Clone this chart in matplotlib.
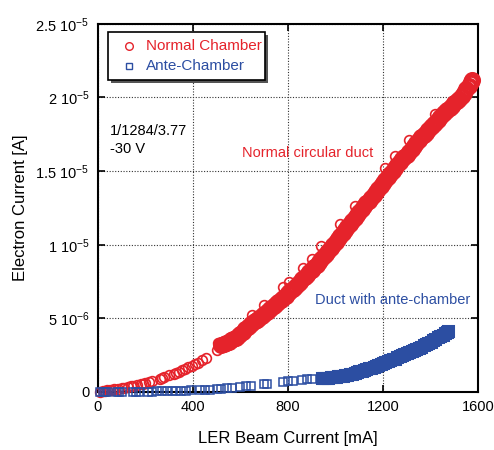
import matplotlib
matplotlib.use("Agg")
import matplotlib.pyplot as plt

plt.rcParams['font.family'] = ['Liberation Sans', 'DejaVu Sans']
plt.rcParams['mathtext.default'] = 'regular'

# ---------------- data (mA, 1e-6 A) ----------------
# Normal chamber, sparse low-current part
red_low_x = [10, 20, 30, 40, 50, 60, 70, 85, 100, 110, 125, 140, 150, 165, 180,
             190, 200, 215, 230, 260, 270, 280, 300, 320, 330, 340, 355, 365, 380,
             395, 410, 420, 440, 455, 500, 505]
red_low_y = [0.03, 0.06, 0.08, 0.10, 0.12, 0.15, 0.17, 0.20, 0.25, 0.28, 0.33,
             0.38, 0.42, 0.48, 0.53, 0.57, 0.62, 0.68, 0.75, 0.90, 0.95, 1.00,
             1.12, 1.25, 1.30, 1.38, 1.48, 1.55, 1.67, 1.78, 1.90, 1.98, 2.15,
             2.32, 2.85, 3.3]
# Normal chamber, dense part
red_x = [520, 530, 540, 550, 560, 570, 580, 590, 600, 610, 620, 630, 640, 650,
         660, 670, 680, 690, 700, 710, 720, 730, 740, 750, 760, 770, 780, 790,
         800, 810, 820, 830, 840, 850, 860, 870, 880, 890, 900, 910, 920, 930,
         940, 950, 960, 970, 980, 990, 1000, 1010, 1020, 1030, 1040, 1050, 1060,
         1070, 1080, 1090, 1100, 1110, 1120, 1130, 1140, 1150, 1160, 1170, 1180,
         1190, 1200, 1210, 1220, 1230, 1240, 1250, 1260, 1270, 1280, 1290, 1300,
         1310, 1320, 1330, 1340, 1350, 1360, 1370, 1380, 1390, 1400, 1410, 1420,
         1430, 1440, 1450, 1460, 1470, 1480, 1490, 1500, 1510, 1520, 1530, 1540,
         1550, 1560, 1570, 1575]
red_y = [3.2, 3.28, 3.35, 3.42, 3.5, 3.57, 3.65, 3.8, 3.95, 4.1, 4.25, 4.4, 4.55,
         4.68, 4.8, 4.92, 5.05, 5.18, 5.3, 5.42, 5.55, 5.7, 5.85, 5.97, 6.1,
         6.25, 6.4, 6.55, 6.7, 6.85, 7.0, 7.15, 7.3, 7.47, 7.65, 7.8, 7.95, 8.12,
         8.3, 8.47, 8.65, 8.82, 9.0, 9.2, 9.4, 9.6, 9.8, 10.0, 10.2, 10.4, 10.6,
         10.8, 11.0, 11.2, 11.4, 11.6, 11.8, 12.0, 12.2, 12.4, 12.6, 12.8, 13.0,
         13.2, 13.4, 13.6, 13.8, 14.0, 14.2, 14.4, 14.6, 14.8, 15.0, 15.2, 15.4,
         15.6, 15.8, 15.95, 16.1, 16.3, 16.5, 16.7, 16.9, 17.1, 17.3, 17.45, 17.6,
         17.8, 18.0, 18.15, 18.3, 18.5, 18.7, 18.85, 19.0, 19.15, 19.3, 19.45,
         19.6, 19.75, 19.9, 20.1, 20.3, 20.55, 20.8, 21.05, 21.2]
# a few visible outliers above the band
red_out_x = [650, 700, 780, 805, 865, 900, 940, 1020, 1080, 1210, 1250, 1310, 1420]
red_out_y = [5.2, 5.9, 7.1, 7.5, 8.4, 9.0, 9.9, 11.4, 12.6, 15.2, 16.0, 17.1, 18.9]

# Ante-chamber
blue_x = [10, 20, 30, 40, 80, 90, 100, 150, 160, 175, 210, 230, 250, 270, 290,
          310, 330, 350, 370, 390, 430, 450, 470, 500, 520, 545, 565, 600, 625,
          645, 700, 710, 780, 800, 820, 860, 880, 900,
          943, 950, 960, 970, 980, 990, 1000, 1010, 1020, 1030, 1040, 1050, 1060,
          1070, 1080, 1090, 1100, 1110, 1120, 1130, 1140, 1150, 1160, 1170, 1180,
          1190, 1200, 1210, 1220, 1230, 1240, 1250, 1260, 1270, 1280, 1290, 1300,
          1310, 1320, 1330, 1340, 1350, 1360, 1370, 1380, 1390, 1400, 1410, 1420,
          1430, 1440, 1450, 1460, 1470, 1474]
blue_y = [0.0, 0.0, 0.0, 0.0, 0.0, 0.0, 0.0, 0.01, 0.01, 0.02, 0.03, 0.03, 0.04,
          0.05, 0.05, 0.06, 0.07, 0.08, 0.09, 0.10, 0.12, 0.14, 0.16, 0.20, 0.23,
          0.26, 0.28, 0.35, 0.40, 0.43, 0.53, 0.56, 0.70, 0.73, 0.76, 0.82, 0.85,
          0.88,
          0.95, 0.96, 0.97, 0.98, 1.0, 1.02, 1.04, 1.06, 1.08, 1.1, 1.13, 1.16,
          1.2, 1.25, 1.3, 1.35, 1.4, 1.45, 1.5, 1.55, 1.6, 1.65, 1.71, 1.77, 1.83,
          1.89, 1.95, 2.01, 2.08, 2.14, 2.21, 2.27, 2.34, 2.41, 2.48, 2.55, 2.62,
          2.69, 2.76, 2.84, 2.92, 3.0, 3.08, 3.16, 3.25, 3.33, 3.42, 3.51, 3.6,
          3.7, 3.8, 3.9, 4.0, 4.1, 4.15]

x_ticks = [0, 400, 800, 1200, 1600]
y_ticks = [0, 5e-6, 1e-5, 1.5e-5, 2e-5, 2.5e-5]
y_tick_labels = ['0', r'5 10$^{-6}$', r'1 10$^{-5}$', r'1.5 10$^{-5}$',
                 r'2 10$^{-5}$', r'2.5 10$^{-5}$']

RED = '#e5232b'
BLUE = '#2c4ea2'

fig = plt.figure(figsize=(4.94, 4.5), dpi=100)
ax = fig.add_axes([0.198, 0.129, 0.770, 0.818])

def scale(v):
    return [a * 1e-6 for a in v]

common_r = dict(linestyle='none', marker='o', markerfacecolor='none',
                markeredgecolor=RED, clip_on=False, zorder=3)
ax.plot(red_low_x, scale(red_low_y), markersize=7, markeredgewidth=1.2, **common_r)
ax.plot(red_out_x, scale(red_out_y), markersize=7, markeredgewidth=1.2, **common_r)
ax.plot(red_x, scale(red_y), markersize=9.5, markeredgewidth=2.8, **common_r)

ax.plot(blue_x[:38], scale(blue_y[:38]), linestyle='none', marker='s',
        markersize=6.3, markerfacecolor='none', markeredgecolor=BLUE,
        markeredgewidth=1.1, clip_on=False, zorder=3)
ax.plot(blue_x[38:], scale(blue_y[38:]), linestyle='none', marker='s',
        markersize=7, markerfacecolor='none', markeredgecolor=BLUE,
        markeredgewidth=2.2, clip_on=False, zorder=3)

ax.set_xlim(0, 1600)
ax.set_ylim(0, 2.5e-5)
ax.set_xticks(x_ticks)
ax.set_xticklabels([str(t) for t in x_ticks])
ax.set_yticks(y_ticks)
ax.set_yticklabels(y_tick_labels)
ax.tick_params(direction='in', length=5, width=1.2, top=True, right=True,
               labelsize=10.5, pad=6, colors='black')
for s in ax.spines.values():
    s.set_linewidth(1.5)
ax.grid(True, linestyle=(0, (1, 1.5)), color='#333333', linewidth=0.8)
ax.set_axisbelow(True)

ax.set_xlabel('LER Beam Current [mA]', fontsize=12, labelpad=12)
ax.set_ylabel('Electron Current [A]', fontsize=12, labelpad=5)

# legend box with shadow
def px2ax(px, py):
    return ((px - 98) / 380, (392 - py) / 368)
lx0, ly0, lx1, ly1 = 108, 32, 265, 80
a0 = px2ax(lx0, ly1)
a1 = px2ax(lx1, ly0)
shadow = plt.Rectangle((a0[0] + 0.008, a0[1] - 0.008), a1[0] - a0[0], a1[1] - a0[1],
                       transform=ax.transAxes, facecolor='#555555', edgecolor='none',
                       zorder=4)
box = plt.Rectangle(a0, a1[0] - a0[0], a1[1] - a0[1], transform=ax.transAxes,
                    facecolor='white', edgecolor='black', linewidth=1.2, zorder=5)
ax.add_patch(shadow)
ax.add_patch(box)
m1 = px2ax(129, 46)
m2 = px2ax(129, 66)
ax.plot([m1[0]], [m1[1]], marker='o', markersize=5.5, markerfacecolor='none',
        markeredgecolor=RED, markeredgewidth=1.0, transform=ax.transAxes, zorder=6)
ax.plot([m2[0]], [m2[1]], marker='s', markersize=5, markerfacecolor='none',
        markeredgecolor=BLUE, markeredgewidth=1.0, transform=ax.transAxes, zorder=6)
t1 = px2ax(146, 46)
t2 = px2ax(146, 66)
ax.text(t1[0], t1[1], 'Normal Chamber', color=RED, fontsize=11, va='center',
        ha='left', transform=ax.transAxes, zorder=6)
ax.text(t2[0], t2[1], 'Ante-Chamber', color=BLUE, fontsize=11, va='center',
        ha='left', transform=ax.transAxes, zorder=6)

p = px2ax(110, 140)
ax.text(p[0], p[1], '1/1284/3.77\n-30 V', color='black', fontsize=10.5,
        va='center', ha='left', linespacing=1.35, transform=ax.transAxes)
p = px2ax(242, 153)
ax.text(p[0], p[1], 'Normal circular duct', color=RED, fontsize=10.5,
        va='center', ha='left', transform=ax.transAxes)
p = px2ax(315, 300)
ax.text(p[0], p[1], 'Duct with ante-chamber', color=BLUE, fontsize=10.5,
        va='center', ha='left', transform=ax.transAxes, clip_on=False)

fig.savefig('out.png', dpi=100)
